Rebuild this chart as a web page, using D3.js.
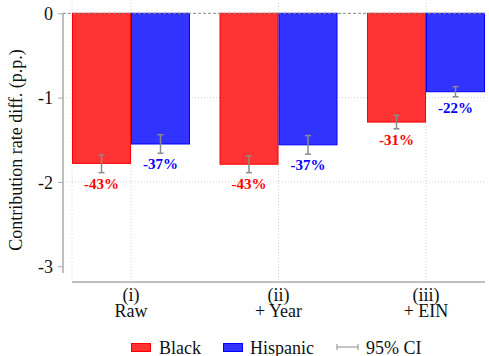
<!DOCTYPE html>
<html>
<head>
<meta charset="utf-8">
<script src="https://cdn.jsdelivr.net/npm/d3@7"></script>
<style>
  html, body { margin: 0; padding: 0; background: #fff; }
  svg { display: block; font-family: "Liberation Serif", "Times New Roman", serif; }
</style>
</head>
<body>
<svg id="chart" width="489" height="356"></svg>
<script>
// Specifications: (i) raw gap, (ii) adding year fixed effects, (iii) adding EIN fixed effects
const specNumerals = ["(i)", "(ii)", "(iii)"];
const specNames = ["Raw", "+ Year", "+ EIN"];

// Contribution-rate differences vs. reference group, percentage points
const blackDiff = [-1.78, -1.79, -1.29];
const hispanicDiff = [-1.55, -1.56, -0.93];

// 95% confidence interval bounds
const blackLow = [-1.89, -1.89, -1.37];
const blackHigh = [-1.68, -1.69, -1.21];
const hispanicLow = [-1.66, -1.67, -0.99];
const hispanicHigh = [-1.44, -1.45, -0.87];

// Gap relative to the reference group's mean rate
const blackPct = ["-43%", "-43%", "-31%"];
const hispanicPct = ["-37%", "-37%", "-22%"];

const yTicks = [0, -1, -2, -3];
const yTickLabels = ["0", "-1", "-2", "-3"];
const seriesNames = ["Black", "Hispanic"];

const series = [
  { name: seriesNames[0], values: blackDiff, low: blackLow, high: blackHigh, pct: blackPct,
    fill: "#ff3333", stroke: "#ff0000", text: "#ff0000" },
  { name: seriesNames[1], values: hispanicDiff, low: hispanicLow, high: hispanicHigh, pct: hispanicPct,
    fill: "#3333ff", stroke: "#0000ff", text: "#0000ff" }
];

const svg = d3.select("#chart");
const serif = "Liberation Serif";

const plotLeft = 72, plotRight = 485, plotTop = 3, plotBottom = 282;
const axisX = 63;

const x = d3.scaleBand()
  .domain(specNumerals)
  .range([plotLeft, plotRight])
  .paddingInner(0.2)
  .paddingOuter(0);

const xSub = d3.scaleBand()
  .domain(seriesNames)
  .range([0, x.bandwidth()])
  .padding(0);

const y = d3.scaleLinear()
  .domain([0, -3.08])
  .range([13.3, 273]);

// Vertical dotted guides
const vLines = [plotLeft].concat(specNumerals.map(d => x(d) + x.bandwidth() / 2));
svg.append("g").selectAll("line").data(vLines).join("line")
  .attr("x1", d => d).attr("x2", d => d)
  .attr("y1", plotTop).attr("y2", plotBottom)
  .attr("stroke", "#d0d0d0").attr("stroke-width", 1)
  .attr("stroke-dasharray", "1,2");

// Horizontal dotted gridlines
svg.append("g").selectAll("line").data([-1, -2]).join("line")
  .attr("x1", axisX).attr("x2", plotRight)
  .attr("y1", d => y(d)).attr("y2", d => y(d))
  .attr("stroke", "#d0d0d0").attr("stroke-width", 1)
  .attr("stroke-dasharray", "1,2");

// Bars
series.forEach(s => {
  svg.append("g").selectAll("rect").data(specNumerals).join("rect")
    .attr("x", (d, i) => x(d) + xSub(s.name) + 0.5)
    .attr("y", y(0))
    .attr("width", xSub.bandwidth() - 1)
    .attr("height", (d, i) => y(s.values[i]) - y(0))
    .attr("fill", s.fill)
    .attr("stroke", s.stroke)
    .attr("stroke-width", 1);
});

// Zero reference line
svg.append("line")
  .attr("x1", axisX).attr("x2", plotRight)
  .attr("y1", y(0)).attr("y2", y(0))
  .attr("stroke", "#888").attr("stroke-width", 1)
  .attr("stroke-dasharray", "3,2");

// Confidence interval whiskers
series.forEach(s => {
  const g = svg.append("g").attr("stroke", "#8a8a8a").attr("stroke-width", 1.5);
  specNumerals.forEach((d, i) => {
    const cx = x(d) + xSub(s.name) + xSub.bandwidth() / 2;
    g.append("line").attr("x1", cx).attr("x2", cx)
      .attr("y1", y(s.high[i])).attr("y2", y(s.low[i]));
    [s.high[i], s.low[i]].forEach(v => {
      g.append("line").attr("x1", cx - 3).attr("x2", cx + 3)
        .attr("y1", y(v)).attr("y2", y(v));
    });
  });
});

// Percent labels below the whiskers
series.forEach(s => {
  svg.append("g").selectAll("text").data(specNumerals).join("text")
    .attr("x", d => x(d) + xSub(s.name) + xSub.bandwidth() / 2)
    .attr("y", (d, i) => y(s.low[i]) + 16)
    .attr("text-anchor", "middle")
    .attr("font-family", serif)
    .attr("font-weight", "bold")
    .attr("font-size", 15)
    .attr("fill", s.text)
    .text((d, i) => s.pct[i]);
});

// Y axis
const yAxis = d3.axisLeft(y).tickValues(yTicks)
  .tickFormat((d, i) => yTickLabels[i]).tickSize(5).tickPadding(5);
const yg = svg.append("g").attr("transform", `translate(${axisX},0)`).call(yAxis);
yg.select(".domain").attr("d", `M0,${y(0)}V${y(-3.08)}`).attr("stroke", "#aaa").attr("stroke-width", 1.5);
yg.selectAll(".tick line").attr("stroke", "#aaa").attr("stroke-width", 1);
yg.selectAll(".tick text")
  .attr("font-family", serif).attr("font-size", 18).attr("fill", "#111")
  .attr("dy", "0.34em");

// Y axis title
svg.append("text")
  .attr("transform", "translate(22,150) rotate(-90)")
  .attr("text-anchor", "middle")
  .attr("font-family", serif).attr("font-size", 18).attr("fill", "#111")
  .text("Contribution rate diff. (p.p.)");

// X axis baseline
svg.append("line")
  .attr("x1", plotLeft).attr("x2", plotRight)
  .attr("y1", plotBottom).attr("y2", plotBottom)
  .attr("stroke", "#aaa").attr("stroke-width", 1.5);

// Category labels (two lines each)
const xl = svg.append("g").selectAll("text").data(specNumerals).join("text")
  .attr("x", d => x(d) + x.bandwidth() / 2)
  .attr("text-anchor", "middle")
  .attr("font-family", serif).attr("font-size", 18).attr("fill", "#111");
xl.append("tspan").attr("x", d => x(d) + x.bandwidth() / 2).attr("y", 301).text(d => d);
xl.append("tspan").attr("x", d => x(d) + x.bandwidth() / 2).attr("y", 317).text((d, i) => specNames[i]);

// Legend
const legend = svg.append("g");
const legendItems = [
  { s: series[0], x: 131, tx: 159 },
  { s: series[1], x: 223, tx: 250 },
];
legendItems.forEach(it => {
  legend.append("rect").attr("x", it.x + 0.5).attr("y", 343.5).attr("width", 19).attr("height", 8)
    .attr("fill", it.s.fill).attr("stroke", it.s.stroke).attr("stroke-width", 1);
  legend.append("text").attr("x", it.tx).attr("y", 353.5)
    .attr("font-family", serif).attr("font-size", 18).attr("fill", "#111")
    .text(it.s.name);
});
const ci = legend.append("g").attr("stroke", "#8a8a8a").attr("stroke-width", 1);
ci.append("line").attr("x1", 337).attr("x2", 358).attr("y1", 347).attr("y2", 347);
ci.append("line").attr("x1", 337).attr("x2", 337).attr("y1", 344).attr("y2", 350);
ci.append("line").attr("x1", 358).attr("x2", 358).attr("y1", 344).attr("y2", 350);
legend.append("text").attr("x", 366).attr("y", 353.5)
  .attr("font-family", serif).attr("font-size", 18).attr("fill", "#111")
  .text("95% CI");
</script>
</body>
</html>
